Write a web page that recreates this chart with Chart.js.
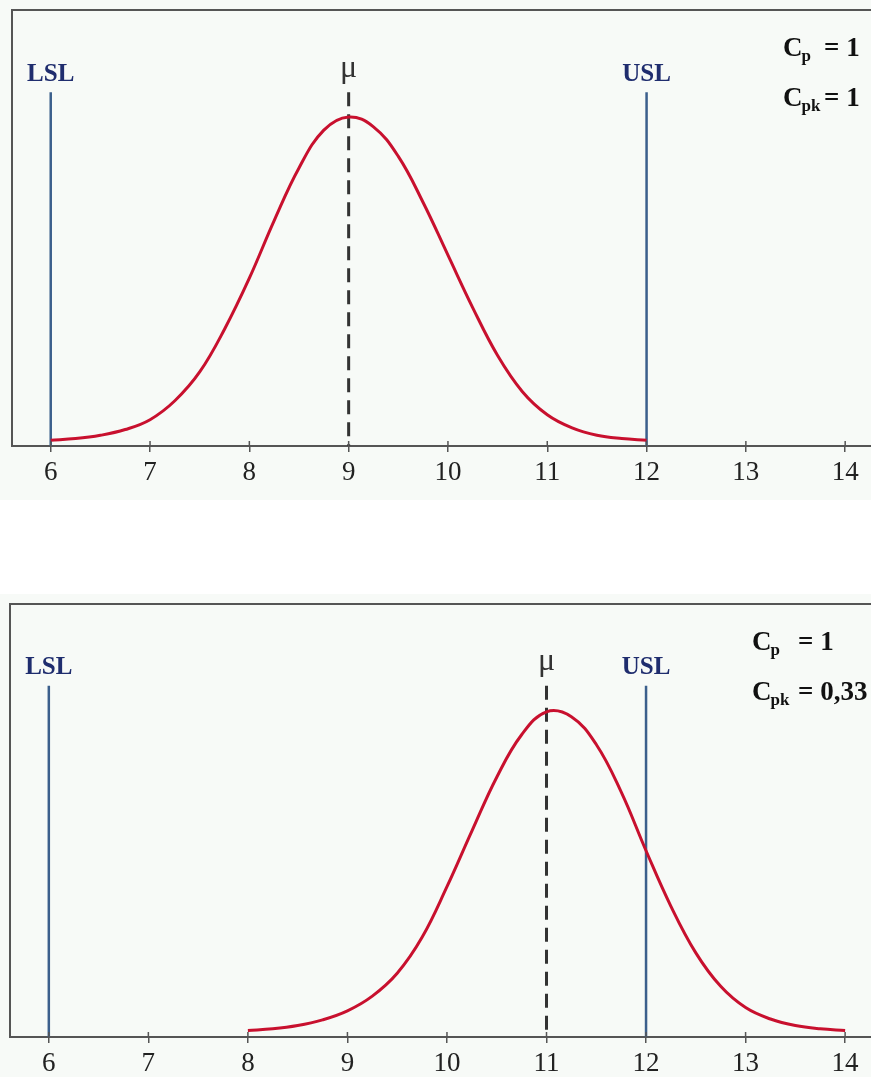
<!DOCTYPE html>
<html>
<head>
<meta charset="utf-8">
<script src="https://cdn.jsdelivr.net/npm/chart.js@4.4.1/dist/chart.umd.min.js"></script>
<style>
  body { margin: 0; background: #fff; }
  .panel { position: absolute; left: 0; width: 871px; }
  #top { top: 0; height: 500px; }
  #bottom { top: 594px; height: 483px; }
</style>
</head>
<body>
<div class="panel" id="top"><canvas id="chartTop"></canvas></div>
<div class="panel" id="bottom"><canvas id="chartBottom"></canvas></div>
<script>
/*
* donnees
*/
const tickValues = [6, 7, 8, 9, 10, 11, 12, 13, 14];
const lsl = 6;
const usl = 12;
const markerTop = 0.43; // hauteur des traits LSL / USL / mu

// process centre (mu = 9)
const centredX = [6, 6.25, 6.5, 6.75, 7, 7.25, 7.5, 7.75, 8, 8.25, 8.5, 8.75, 9,
                  9.25, 9.5, 9.75, 10, 10.25, 10.5, 10.75, 11, 11.25, 11.5, 11.75, 12];
const centredY = [0.007, 0.009, 0.013, 0.020, 0.032, 0.055, 0.090, 0.142, 0.204, 0.274, 0.338, 0.384, 0.400,
                  0.388, 0.352, 0.296, 0.232, 0.168, 0.110, 0.066, 0.038, 0.022, 0.013, 0.009, 0.007];
const centredMean = 9;
const centredCp = '1';
const centredCpk = '1';

// process decale (mu = 11)
const shiftedX = [8, 8.25, 8.5, 8.75, 9, 9.25, 9.5, 9.75, 10, 10.25, 10.5, 10.75, 11,
                  11.25, 11.5, 11.75, 12, 12.25, 12.5, 12.75, 13, 13.25, 13.5, 13.75, 14];
const shiftedY = [0.008, 0.010, 0.014, 0.021, 0.032, 0.050, 0.078, 0.122, 0.184, 0.252, 0.318, 0.370, 0.398,
                  0.392, 0.358, 0.300, 0.228, 0.160, 0.103, 0.062, 0.036, 0.022, 0.014, 0.010, 0.008];
const shiftedMean = 11;
const shiftedCp = '1';
const shiftedCpk = '0,33';

const SERIF = '"Liberation Serif", "DejaVu Serif", serif';

// cadre, petits traits au-dessus de l'axe, etiquettes et indices
const decorations = {
  id: 'decorations',
  beforeDraw(chart) {
    const ctx = chart.ctx;
    ctx.save();
    ctx.fillStyle = '#f7faf7';
    ctx.fillRect(0, 0, chart.width, chart.height);
    ctx.restore();
  },
  afterDraw(chart, args, o) {
    const { ctx, chartArea: a, scales: { x, y } } = chart;
    ctx.save();

    ctx.strokeStyle = '#555';
    ctx.lineWidth = 2;
    ctx.beginPath();
    ctx.moveTo(a.left, a.bottom);
    ctx.lineTo(a.left, a.top);
    ctx.lineTo(a.right, a.top);
    ctx.stroke();

    ctx.lineWidth = 1.5;
    ctx.beginPath();
    x.ticks.forEach(t => {
      const px = x.getPixelForValue(t.value);
      ctx.moveTo(px, a.bottom);
      ctx.lineTo(px, a.bottom - 5);
    });
    ctx.stroke();

    const yTop = y.getPixelForValue(markerTop);
    ctx.textAlign = 'center';
    ctx.textBaseline = 'middle';
    ctx.font = 'bold 25px ' + SERIF;
    ctx.fillStyle = '#1f2d6e';
    ctx.fillText('LSL', x.getPixelForValue(lsl), yTop - 18);
    ctx.fillText('USL', x.getPixelForValue(usl), yTop - 18);

    ctx.font = '32px ' + SERIF;
    ctx.fillStyle = '#333';
    ctx.fillText('μ', x.getPixelForValue(o.mean), yTop - 24);

    ctx.fillStyle = '#111';
    drawIndex(ctx, o.textX, 56, 'p', o.cp, o.eqX);
    drawIndex(ctx, o.textX, 106, 'pk', o.cpk, o.eqX);
    ctx.restore();
  }
};

function drawIndex(ctx, x0, baseline, sub, value, eqX) {
  ctx.textAlign = 'left';
  ctx.textBaseline = 'alphabetic';
  ctx.font = 'bold 27px ' + SERIF;
  ctx.fillText('C', x0, baseline);
  const cw = ctx.measureText('C').width;
  ctx.font = 'bold 17px ' + SERIF;
  ctx.fillText(sub, x0 + cw - 1, baseline + 5);
  ctx.font = 'bold 27px ' + SERIF;
  ctx.fillText('= ' + value, eqX, baseline);
}

function vline(xv, color, dash) {
  return {
    data: [{ x: xv, y: markerTop }, { x: xv, y: 0 }],
    borderColor: color,
    borderWidth: dash ? 3 : 2.5,
    borderDash: dash || [],
    pointRadius: 0,
    tension: 0
  };
}

function makeChart(id, xs, ys, mean, cp, cpk, layout) {
  const curve = xs.map((v, i) => ({ x: v, y: ys[i] }));
  return new Chart(document.getElementById(id), {
    type: 'line',
    data: {
      datasets: [
        {
          data: curve,
          borderColor: '#c8102e',
          borderWidth: 3,
          pointRadius: 0,
          tension: 0.4
        },
        vline(mean, '#333', [14, 8]),
        vline(lsl, '#3b5f8c'),
        vline(usl, '#3b5f8c')
      ]
    },
    options: {
      responsive: true,
      maintainAspectRatio: false,
      animation: false,
      layout: { padding: { top: 10, left: layout.left, right: 0, bottom: 0 } },
      scales: {
        x: {
          type: 'linear',
          min: 5.61,
          max: 14.26,
          afterBuildTicks: s => { s.ticks = tickValues.map(v => ({ value: v })); },
          afterFit: s => { s.height = layout.axisH; },
          ticks: {
            font: { family: SERIF, size: 27 },
            color: '#222',
            padding: 5,
            maxRotation: 0
          },
          grid: { drawOnChartArea: false, tickLength: 6, color: '#555', lineWidth: 1.5 },
          border: { color: '#555', width: 2 }
        },
        y: { display: false, min: 0, max: 0.53 }
      },
      plugins: {
        legend: { display: false },
        tooltip: { enabled: false },
        decorations: { mean, cp, cpk, textX: layout.textX, eqX: layout.eqX }
      }
    },
    plugins: [decorations]
  });
}

makeChart('chartTop', centredX, centredY, centredMean, centredCp, centredCpk,
  { left: 12, axisH: 54, textX: 783, eqX: 824 });
makeChart('chartBottom', shiftedX, shiftedY, shiftedMean, shiftedCp, shiftedCpk,
  { left: 10, axisH: 40, textX: 752, eqX: 798 });
</script>
</body>
</html>
